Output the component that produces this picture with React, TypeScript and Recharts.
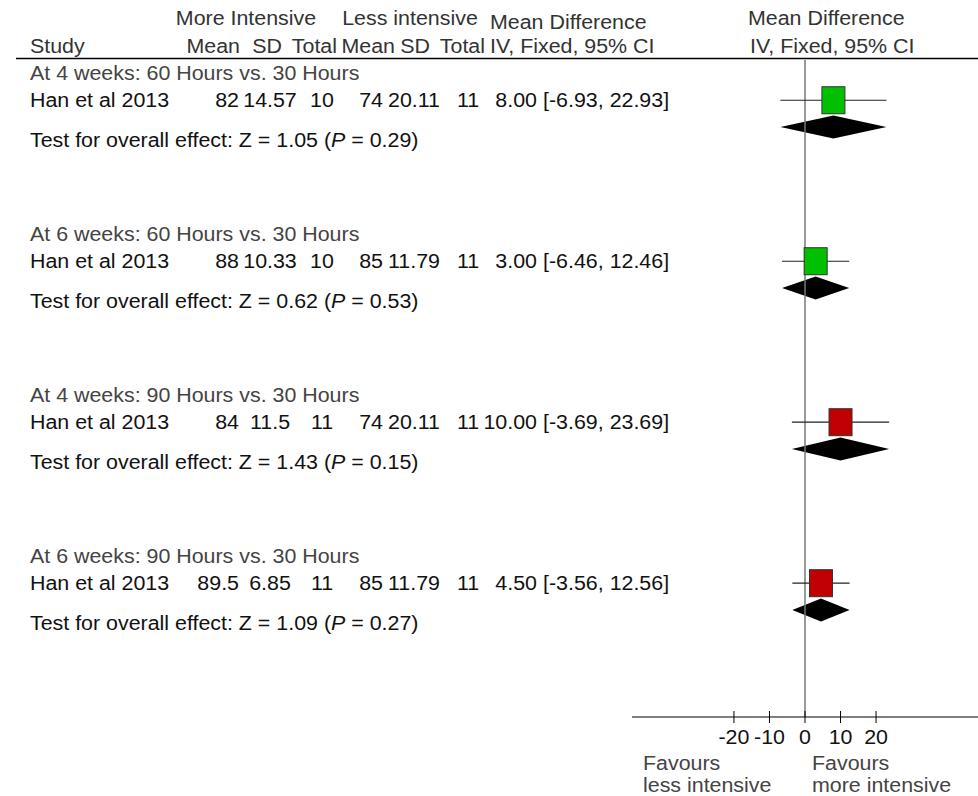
import { ComposedChart, Scatter, XAxis, YAxis, ReferenceLine, ReferenceArea } from "recharts";

// forest plot: more vs less intensive, mean difference (IV, fixed, 95% CI)
const subgroups = [
  "At 4 weeks: 60 Hours vs. 30 Hours",
  "At 6 weeks: 60 Hours vs. 30 Hours",
  "At 4 weeks: 90 Hours vs. 30 Hours",
  "At 6 weeks: 90 Hours vs. 30 Hours",
];
const studyName = "Han et al 2013";
const moreMean = [82, 88, 84, 89.5];
const moreSD = [14.57, 10.33, 11.5, 6.85];
const moreTotal = [10, 10, 11, 11];
const lessMean = [74, 85, 74, 85];
const lessSD = [20.11, 11.79, 20.11, 11.79];
const lessTotal = [11, 11, 11, 11];
const meanDiff = [8.0, 3.0, 10.0, 4.5];
const ciLower = [-6.93, -6.46, -3.69, -3.56];
const ciUpper = [22.93, 12.46, 23.69, 12.56];
const zScores = [1.05, 0.62, 1.43, 1.09];
const pValues = [0.29, 0.53, 0.15, 0.27];
const boxColors = ["#00c000", "#00c000", "#c00000", "#c00000"];
const xTicks = [-20, -10, 0, 10, 20];

// vertical layout in row units
const GROUP_ROWS = 8;
const HEADER_ROW = 0.65;
const STUDY_ROW = 2;
const DIAMOND_ROW = 3.33;
const TEST_ROW = 4;
const DIAMOND_HALF = 0.57;

const FONT = "'Liberation Sans', Arial, Helvetica, sans-serif";
const W = 978;
const H = 796;

const tableRows = subgroups.flatMap((_, i) => [
  { x: 0, y: i * GROUP_ROWS + HEADER_ROW, kind: "group", group: i },
  { x: 0, y: i * GROUP_ROWS + STUDY_ROW, kind: "study", group: i },
  { x: 0, y: i * GROUP_ROWS + TEST_ROW, kind: "test", group: i },
]);

const studyPoints = meanDiff.map((v, i) => ({
  x: v,
  y: i * GROUP_ROWS + STUDY_ROW,
  color: boxColors[i],
}));

// text a little wider than the font's natural width
const T = ({ x, y, anchor = "start", fill = "#111", children }: any) => (
  <text
    transform={`translate(${x} ${y}) scale(1.07 1)`}
    textAnchor={anchor}
    fill={fill}
    fontFamily={FONT}
    fontSize={20}
  >
    {children}
  </text>
);

const TableRow = (props: any) => {
  const { cy, payload } = props;
  const i = payload.group;
  const y = cy + 7;
  if (payload.kind === "group") {
    return <T x={30} y={y} fill="#444">{subgroups[i]}</T>;
  }
  if (payload.kind === "test") {
    return (
      <T x={30} y={y}>
        Test for overall effect: Z = {zScores[i].toFixed(2)} (<tspan fontStyle="italic">P</tspan> = {pValues[i].toFixed(2)})
      </T>
    );
  }
  return (
    <g>
      <T x={30} y={y}>{studyName}</T>
      <T x={239} y={y} anchor="end">{moreMean[i]}</T>
      <T x={270} y={y} anchor="middle">{moreSD[i]}</T>
      <T x={322} y={y} anchor="middle">{moreTotal[i]}</T>
      <T x={383} y={y} anchor="end">{lessMean[i]}</T>
      <T x={414} y={y} anchor="middle">{lessSD[i]}</T>
      <T x={468} y={y} anchor="middle">{lessTotal[i]}</T>
      <T x={537} y={y} anchor="end">{meanDiff[i].toFixed(2)}</T>
      <T x={543} y={y}>[{ciLower[i].toFixed(2)}, {ciUpper[i].toFixed(2)}]</T>
    </g>
  );
};

const StudyBox = (props: any) => {
  const { cx, cy, payload } = props;
  return <rect x={cx - 11.5} y={cy - 13.5} width={23} height={27} fill={payload.color} stroke="#333" strokeWidth={1} />;
};

const Diamond = (props: any) => {
  const { x, y, width, height } = props;
  const mx = x + width / 2;
  const my = y + height / 2;
  return <polygon points={`${x},${my} ${mx},${y} ${x + width},${my} ${mx},${y + height}`} fill="#000" />;
};

const AxisTick = (props: any) => {
  const { x, y, payload } = props;
  return (
    <g>
      <line x1={x} x2={x} y1={y - 6} y2={y + 6} stroke="#000" strokeWidth={1} />
      <T x={x} y={y + 27} anchor="middle">{payload.value}</T>
    </g>
  );
};

export default function App() {
  return (
    <div style={{ position: "absolute", left: 0, top: 0, width: W, height: H, overflow: "hidden", background: "#fff" }}>
      <ComposedChart width={W} height={H} margin={{ top: 60, right: 0, bottom: 0, left: 632 }}>
        <XAxis
          type="number"
          dataKey="x"
          domain={[-48.7, 48.7]}
          ticks={xTicks}
          interval={0}
          height={79}
          tickLine={false}
          tickSize={0}
          tickMargin={0}
          tick={<AxisTick />}
          axisLine={{ stroke: "#000", strokeWidth: 1 }}
        />
        <YAxis type="number" dataKey="y" domain={[0, 32.65]} reversed hide />
        <ReferenceLine x={0} stroke="#777" strokeWidth={1.5} />
        {meanDiff.map((_, i) => (
          <ReferenceLine
            key={`ci-${i}`}
            segment={[
              { x: ciLower[i], y: i * GROUP_ROWS + STUDY_ROW },
              { x: ciUpper[i], y: i * GROUP_ROWS + STUDY_ROW },
            ]}
            stroke="#222"
            strokeWidth={1.2}
          />
        ))}
        <Scatter data={studyPoints} shape={<StudyBox />} isAnimationActive={false} />
        {meanDiff.map((_, i) => (
          <ReferenceArea
            key={`pooled-${i}`}
            x1={ciLower[i]}
            x2={ciUpper[i]}
            y1={i * GROUP_ROWS + DIAMOND_ROW - DIAMOND_HALF}
            y2={i * GROUP_ROWS + DIAMOND_ROW + DIAMOND_HALF}
            shape={<Diamond />}
          />
        ))}
        <Scatter data={tableRows} shape={<TableRow />} isAnimationActive={false} />
      </ComposedChart>
      <svg width={W} height={H} style={{ position: "absolute", left: 0, top: 0, pointerEvents: "none" }}>
        <T x={246} y={25} anchor="middle" fill="#333">More Intensive</T>
        <T x={410} y={25} anchor="middle" fill="#333">Less intensive</T>
        <T x={490} y={29} fill="#333">Mean Difference</T>
        <T x={748} y={25} fill="#333">Mean Difference</T>
        <T x={30} y={53} fill="#333">Study</T>
        <T x={240} y={53} anchor="end" fill="#333">Mean</T>
        <T x={282} y={53} anchor="end" fill="#333">SD</T>
        <T x={337} y={53} anchor="end" fill="#333">Total</T>
        <T x={395} y={53} anchor="end" fill="#333">Mean</T>
        <T x={430} y={53} anchor="end" fill="#333">SD</T>
        <T x={485} y={53} anchor="end" fill="#333">Total</T>
        <T x={490} y={53} fill="#333">IV, Fixed, 95% CI</T>
        <T x={750} y={53} fill="#333">IV, Fixed, 95% CI</T>
        <line x1={16} x2={W} y1={58.5} y2={58.5} stroke="#000" strokeWidth={1.5} />
        <T x={643} y={770} fill="#444">Favours</T>
        <T x={643} y={792} fill="#444">less intensive</T>
        <T x={812} y={770} fill="#444">Favours</T>
        <T x={812} y={792} fill="#444">more intensive</T>
      </svg>
    </div>
  );
}
